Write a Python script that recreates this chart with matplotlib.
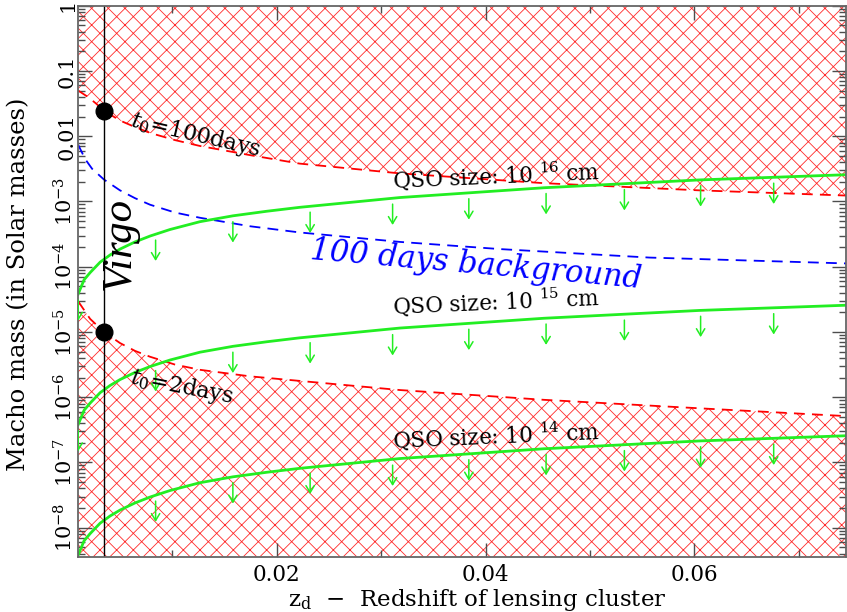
import numpy as np
import matplotlib
matplotlib.use("Agg")
import matplotlib.pyplot as plt

plt.rcParams['font.family'] = ['DejaVu Serif']
plt.rcParams['mathtext.fontset'] = 'dejavuserif'
plt.rcParams['hatch.linewidth'] = 0.6

# curves (x = z_d, y = log10 of macho mass)
upper_x = [0.00098, 0.00193, 0.00270, 0.00346, 0.00499, 0.00643, 0.00787, 0.01026, 0.01265, 0.01744, 0.0222, 0.0318, 0.0456, 0.0605, 0.0746]
upper_y = [-1.30, -1.40, -1.50, -1.61, -1.76, -1.86, -1.95, -2.06, -2.15, -2.29, -2.42, -2.57, -2.72, -2.83, -2.91]

lower_x = [0.00098, 0.00213, 0.00346, 0.00499, 0.00643, 0.00787, 0.01026, 0.01265, 0.01744, 0.0222, 0.0318, 0.0456, 0.0605, 0.0746]
lower_y = [-4.53, -4.80, -5.00, -5.17, -5.29, -5.38, -5.50, -5.58, -5.68, -5.75, -5.89, -6.04, -6.17, -6.29]

bg_x = [0.00098, 0.00165, 0.00232, 0.00346, 0.00499, 0.00643, 0.00787, 0.01026, 0.01265, 0.01744, 0.0222, 0.0318, 0.0414, 0.0557, 0.0746]
bg_y = [-2.13, -2.35, -2.50, -2.665, -2.83, -2.95, -3.05, -3.17, -3.25, -3.38, -3.475, -3.62, -3.73, -3.86, -3.95]

qso_x = [0.00098, 0.00155, 0.00213, 0.00309, 0.00404, 0.00499, 0.00643, 0.00787, 0.00978, 0.01265, 0.01581, 0.01906, 0.0222, 0.0318, 0.0456, 0.0605, 0.0746]
qso16_y = [-4.42, -4.20, -4.09, -3.93, -3.82, -3.73, -3.62, -3.53, -3.43, -3.31, -3.22, -3.15, -3.09, -2.94, -2.79, -2.67, -2.59]
qso15_y = [-6.42, -6.20, -6.09, -5.93, -5.82, -5.73, -5.62, -5.53, -5.43, -5.31, -5.22, -5.15, -5.09, -4.94, -4.79, -4.67, -4.59]
qso14_y = [-8.42, -8.20, -8.09, -7.93, -7.82, -7.73, -7.62, -7.53, -7.43, -7.31, -7.22, -7.15, -7.09, -6.94, -6.79, -6.67, -6.59]

arrow_x = [0.00098, 0.0084, 0.0158, 0.0232, 0.0311, 0.0384, 0.0458, 0.0533, 0.0606, 0.0676]

virgo_z = 0.0035
dots_y = [0.0245, 1e-5]

xmin, xmax = 0.001, 0.0745
ymin, ymax = 3.6e-9, 1.0

fig = plt.figure(figsize=(8.47, 6.12), dpi=100)
ax = fig.add_axes([0.0925, 0.0904, 0.906, 0.9003])

up = 10 ** np.array(upper_y)
lo = 10 ** np.array(lower_y)
ax.fill_between(upper_x, up, ymax, facecolor='none', edgecolor='#ff2a2a', hatch='xx', linewidth=0)
ax.fill_between(lower_x, ymin, lo, facecolor='none', edgecolor='#ff2a2a', hatch='xx', linewidth=0)
ax.plot(upper_x, up, color='red', lw=1.3, dashes=(6, 4))
ax.plot(lower_x, lo, color='red', lw=1.3, dashes=(6, 4))

ax.plot(bg_x, 10 ** np.array(bg_y), color='blue', lw=1.3, dashes=(6, 4))

green = '#22ee22'
for ys in [qso16_y, qso15_y, qso14_y]:
    ax.plot(qso_x, 10 ** np.array(ys), color=green, lw=2)
    for xa in arrow_x:
        yl = np.interp(xa, qso_x, ys)
        a = ax.annotate('', xy=(xa, 10 ** (yl - 0.41)), xytext=(xa, 10 ** (yl - 0.09)),
                        arrowprops=dict(arrowstyle='->,head_length=0.5,head_width=0.3',
                                        color=green, lw=1.1, shrinkA=0, shrinkB=0),
                        annotation_clip=False)
        a.arrow_patch.set_clip_on(True)
        a.arrow_patch.set_clip_box(ax.bbox)

ax.axvline(virgo_z, color='black', lw=1)
ax.plot([virgo_z] * 2, dots_y, 'o', color='black', ms=12, ls='none')

ax.text(0.0060, 0.0175, r'$t_0$=100days', fontsize=16, rotation=-13, rotation_mode='anchor',
        ha='left', va='center')
ax.text(0.0060, 2.0e-6, r'$t_0$=2days', fontsize=16, rotation=-11, rotation_mode='anchor',
        ha='left', va='center')
qso_lab = r'QSO size: 10 $^{%d}$ cm'
for k, yy in [(16, 2.1e-3), (15, 2.5e-5), (14, 2.2e-7)]:
    ax.text(0.0311, yy, qso_lab % k, fontsize=15.5, rotation=2.5, rotation_mode='anchor',
            ha='left', va='center')
ax.text(0.0232, 1.75e-4, '100 days background', fontsize=22, color='blue', style='italic',
        rotation=-5, rotation_mode='anchor', ha='left', va='center')
ax.text(0.0049, 2.3e-4, 'Virgo', fontsize=31, style='italic', family='Liberation Serif',
        rotation=90, rotation_mode='anchor', ha='center', va='center')

ax.set_xlim(xmin, xmax)
ax.set_ylim(ymin, ymax)
ax.set_yscale('log')

yt = [1, 0.1, 0.01] + [10.0 ** -k for k in range(3, 9)]
ylabs = ['1', '0.1', '0.01'] + [r'$10^{-%d}$' % k for k in range(3, 9)]
ax.set_yticks(yt)
ax.set_yticklabels(ylabs, rotation=90, va='center', fontsize=15)
ax.yaxis.set_minor_locator(matplotlib.ticker.LogLocator(base=10, subs=np.arange(2, 10), numticks=20))
ax.yaxis.set_minor_formatter(matplotlib.ticker.NullFormatter())

ax.set_xticks([0.02, 0.04, 0.06])
ax.set_xticklabels(['0.02', '0.04', '0.06'], fontsize=15.5)
ax.set_xticks([0.01, 0.03, 0.05, 0.07], minor=True)

ax.tick_params(which='both', direction='in', top=True, right=True, color='0.3')
ax.tick_params(which='major', length=10, width=1, pad=5)
ax.tick_params(which='minor', length=5, width=1)
ax.tick_params(axis='y', which='major', pad=1)
for s in ax.spines.values():
    s.set_color('0.4')
    s.set_linewidth(1.3)

ax.set_xlabel(r'z$_{\rm d}$  $-$  Redshift of lensing cluster', fontsize=16.5, labelpad=0)
ax.xaxis.set_label_coords(0.52, -0.055)
ax.set_ylabel('Macho mass (in Solar masses)', fontsize=17.5)
ax.yaxis.label.set_va('center')
ax.yaxis.set_label_coords(-0.078, 0.495)

fig.savefig('out.png', dpi=100)
